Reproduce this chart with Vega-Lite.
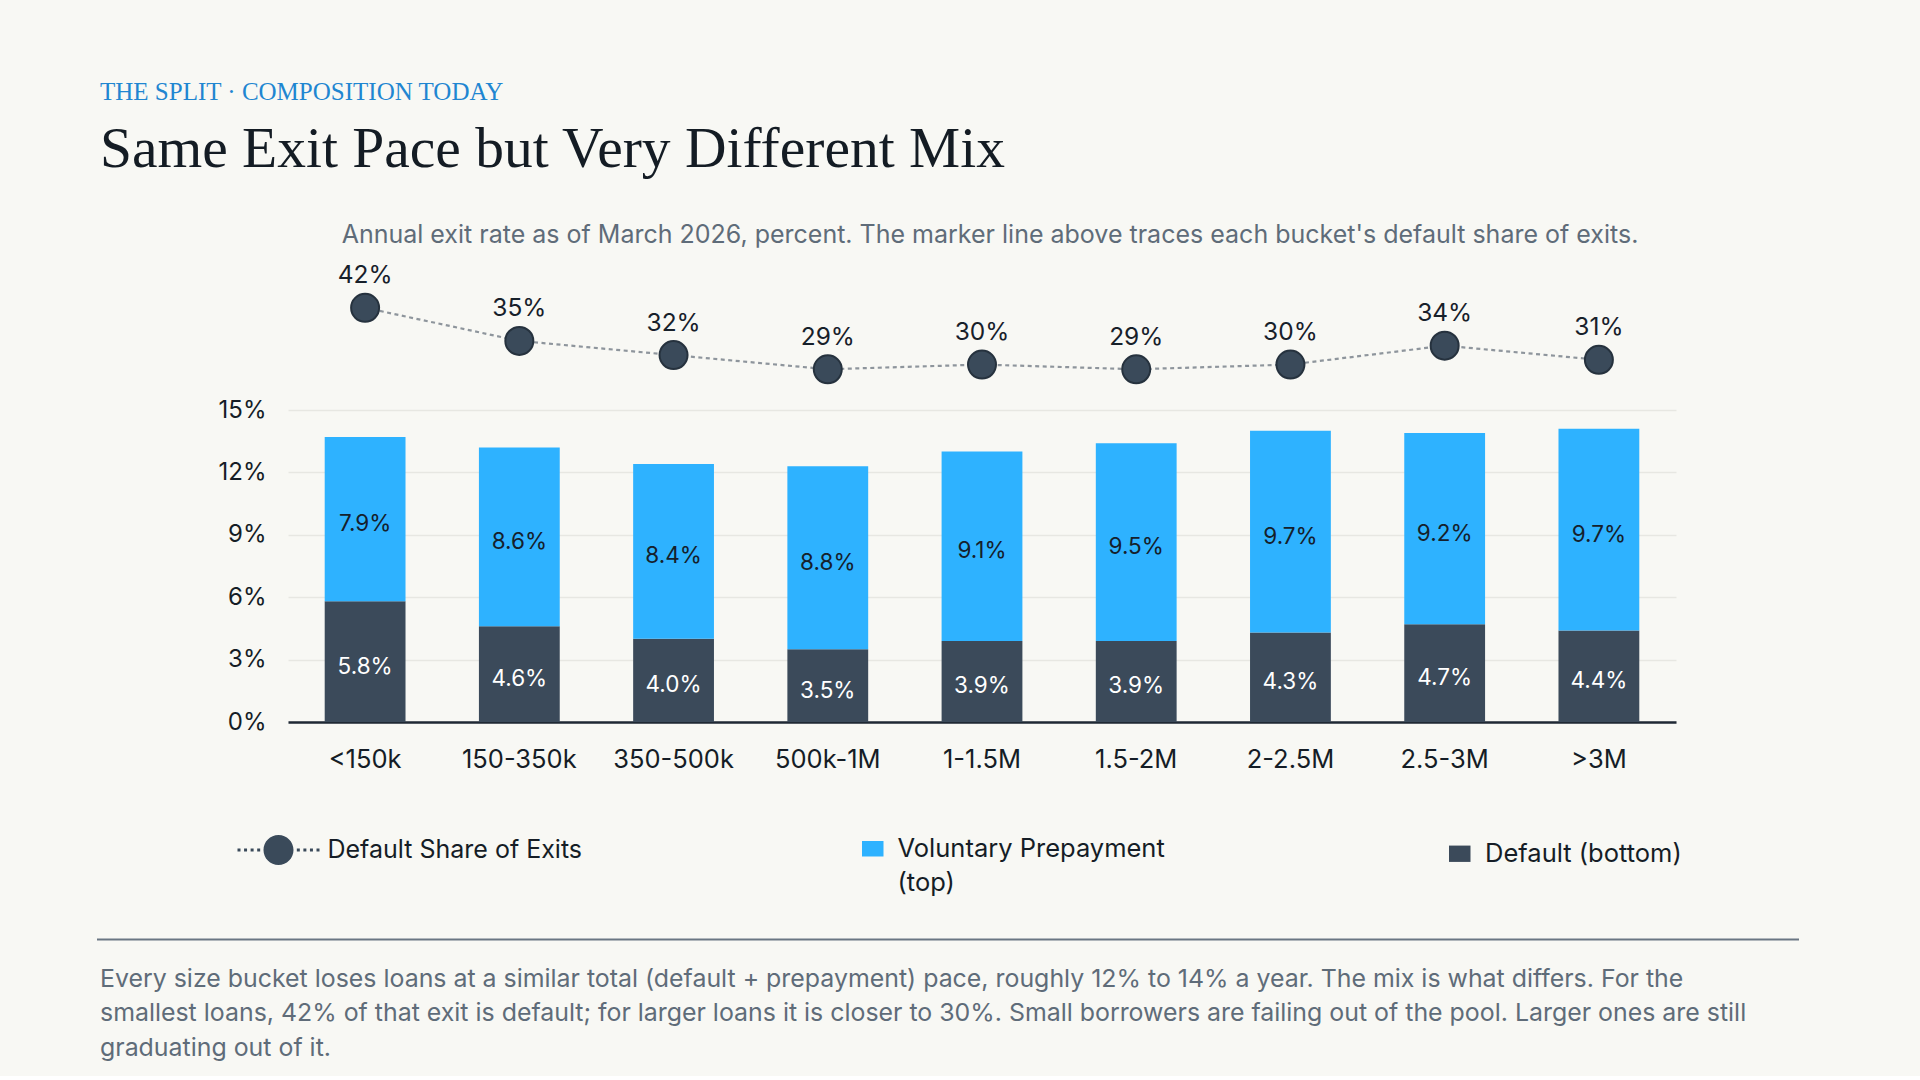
{
  "$schema": "https://vega.github.io/schema/vega-lite/v6.json",
  "background": "#f8f8f4",
  "autosize": {"type": "pad"},
  "padding": {"left": 96, "right": 122, "top": 79, "bottom": 15},
  "title": {
    "text": "THE SPLIT · COMPOSITION TODAY",
    "subtitle": "Same Exit Pace but Very Different Mix",
    "anchor": "start",
    "frame": "group",
    "dx": -188,
    "font": "Liberation Serif",
    "fontSize": 25,
    "fontWeight": "normal",
    "color": "#1f86d1",
    "subtitleFont": "Liberation Serif",
    "subtitleFontSize": 57.5,
    "subtitleColor": "#141c24",
    "subtitlePadding": 17,
    "offset": 45
  },
  "datasets": {
    "exits": [
      {"bucket": "<150k", "part": "Default (bottom)", "value": 0.058},
      {"bucket": "<150k", "part": "Voluntary Prepayment (top)", "value": 0.079},
      {"bucket": "150-350k", "part": "Default (bottom)", "value": 0.046},
      {"bucket": "150-350k", "part": "Voluntary Prepayment (top)", "value": 0.086},
      {"bucket": "350-500k", "part": "Default (bottom)", "value": 0.040},
      {"bucket": "350-500k", "part": "Voluntary Prepayment (top)", "value": 0.084},
      {"bucket": "500k-1M", "part": "Default (bottom)", "value": 0.035},
      {"bucket": "500k-1M", "part": "Voluntary Prepayment (top)", "value": 0.088},
      {"bucket": "1-1.5M", "part": "Default (bottom)", "value": 0.039},
      {"bucket": "1-1.5M", "part": "Voluntary Prepayment (top)", "value": 0.091},
      {"bucket": "1.5-2M", "part": "Default (bottom)", "value": 0.039},
      {"bucket": "1.5-2M", "part": "Voluntary Prepayment (top)", "value": 0.095},
      {"bucket": "2-2.5M", "part": "Default (bottom)", "value": 0.043},
      {"bucket": "2-2.5M", "part": "Voluntary Prepayment (top)", "value": 0.097},
      {"bucket": "2.5-3M", "part": "Default (bottom)", "value": 0.047},
      {"bucket": "2.5-3M", "part": "Voluntary Prepayment (top)", "value": 0.092},
      {"bucket": ">3M", "part": "Default (bottom)", "value": 0.044},
      {"bucket": ">3M", "part": "Voluntary Prepayment (top)", "value": 0.097}
    ],
    "share": [
      {"bucket": "<150k", "share": 0.42},
      {"bucket": "150-350k", "share": 0.35},
      {"bucket": "350-500k", "share": 0.32},
      {"bucket": "500k-1M", "share": 0.29},
      {"bucket": "1-1.5M", "share": 0.30},
      {"bucket": "1.5-2M", "share": 0.29},
      {"bucket": "2-2.5M", "share": 0.30},
      {"bucket": "2.5-3M", "share": 0.34},
      {"bucket": ">3M", "share": 0.31}
    ]
  },
  "spacing": 20,
  "vconcat": [
    {
      "width": 1388,
      "height": 312,
      "title": {
        "text": "Annual exit rate as of March 2026, percent. The marker line above traces each bucket's default share of exits.",
        "anchor": "middle",
        "frame": "group",
        "dx": 8,
        "font": "Inter",
        "fontSize": 25,
        "fontWeight": "normal",
        "color": "#5f6c79",
        "offset": 15
      },
      "layer": [
        {
          "data": {"name": "exits"},
          "transform": [
            {"stack": "value", "groupby": ["bucket"], "sort": [{"field": "part", "order": "ascending"}], "as": ["v0", "v1"]}
          ],
          "encoding": {
            "x": {
              "field": "bucket",
              "type": "nominal",
              "sort": ["<150k", "150-350k", "350-500k", "500k-1M", "1-1.5M", "1.5-2M", "2-2.5M", "2.5-3M", ">3M"],
              "scale": {"paddingInner": 0.476, "paddingOuter": 0.238},
              "axis": {
                "title": null,
                "labelAngle": 0,
                "labelFontSize": 25.5,
                "labelPadding": 25,
                "ticks": false,
                "domain": true,
                "domainColor": "#1f2934",
                "domainWidth": 2.5,
                "grid": false
              }
            }
          },
          "layer": [
            {
              "transform": [{"filter": "datum.part == 'Default (bottom)'"}],
              "mark": {"type": "bar"},
              "encoding": {
                "y": {
                  "field": "v1",
                  "type": "quantitative",
                  "scale": {"domain": [0, 0.15], "nice": false},
                  "axis": {
                    "title": null,
                    "values": [0, 0.03, 0.06, 0.09, 0.12, 0.15],
                    "format": ".0%",
                    "grid": true,
                    "gridColor": "#e7e7e2",
                    "gridWidth": 1.5,
                    "domain": false,
                    "ticks": false,
                    "labelFontSize": 24,
                    "labelPadding": 22,
                    "minExtent": 191,
                    "maxExtent": 191
                  }
                },
                "y2": {"field": "v0"},
                "fill": {
                  "field": "part",
                  "type": "nominal",
                  "scale": {"range": ["#3b4a5a"]},
                  "legend": {
                    "orient": "none",
                    "legendX": 1159,
                    "legendY": 431,
                    "symbolType": "M-1,-0.76H1V0.76H-1Z",
                    "symbolSize": 462,
                    "labelOffset": 12.5
                  }
                }
              }
            },
            {
              "transform": [{"filter": "datum.part == 'Voluntary Prepayment (top)'"}],
              "mark": {"type": "bar"},
              "encoding": {
                "y": {"field": "v1", "type": "quantitative"},
                "y2": {"field": "v0"},
                "fill": {
                  "field": "part",
                  "type": "nominal",
                  "scale": {"range": ["#2eb2ff"]},
                  "legend": {
                    "orient": "none",
                    "legendX": 572,
                    "legendY": 426,
                    "symbolType": "M-1,-0.72H1V0.72H-1Z",
                    "symbolSize": 462,
                    "labelOffset": 12,
                    "labelLimit": 500,
                    "labelExpr": "['Voluntary Prepayment', '(top)']"
                  }
                }
              }
            },
            {
              "transform": [
                {"filter": "datum.part == 'Default (bottom)'"},
                {"fold": ["v0", "v1"], "as": ["edge", "pos"]}
              ],
              "mark": {"type": "text", "font": "Inter", "fontSize": 22.5, "baseline": "middle", "dy": 5, "color": "#ffffff"},
              "encoding": {
                "y": {"field": "pos", "aggregate": "mean", "type": "quantitative"},
                "text": {"field": "value", "type": "quantitative", "format": ".1%"}
              }
            },
            {
              "transform": [
                {"filter": "datum.part == 'Voluntary Prepayment (top)'"},
                {"fold": ["v0", "v1"], "as": ["edge", "pos"]}
              ],
              "mark": {"type": "text", "font": "Inter", "fontSize": 22.5, "baseline": "middle", "dy": 5, "color": "#15202b"},
              "encoding": {
                "y": {"field": "pos", "aggregate": "mean", "type": "quantitative"},
                "text": {"field": "value", "type": "quantitative", "format": ".1%"}
              }
            }
          ],
          "resolve": {"scale": {"fill": "independent"}, "legend": {"fill": "independent"}}
        },
        {
          "data": {"name": "share"},
          "encoding": {
            "x": {
              "field": "bucket",
              "type": "nominal",
              "sort": ["<150k", "150-350k", "350-500k", "500k-1M", "1-1.5M", "1.5-2M", "2-2.5M", "2.5-3M", ">3M"],
              "axis": {
                "title": null,
                "labelAngle": 0,
                "labelFontSize": 25.5,
                "labelPadding": 25,
                "ticks": false,
                "domain": true,
                "domainColor": "#1f2934",
                "domainWidth": 2.5,
                "grid": false
              }
            },
            "y": {"field": "share", "type": "quantitative", "scale": {"domain": [0.25, 0.45], "range": [-21.8, -116.4], "nice": false, "zero": false}, "axis": null}
          },
          "layer": [
            {
              "mark": {"type": "line", "strokeWidth": 2.2, "strokeDash": [4, 3.5]},
              "encoding": {
                "stroke": {
                  "datum": "Default Share of Exits",
                  "type": "nominal",
                  "scale": {"range": ["#8e959c"]},
                  "legend": {
                    "orient": "none",
                    "legendX": -50.5,
                    "legendY": 399,
                    "labelFontSize": 25,
                    "symbolType": "M-1,-0.037H-0.927V0.037H-1Z M-0.84,-0.037H-0.767V0.037H-0.84Z M-0.68,-0.037H-0.607V0.037H-0.68Z M-0.52,-0.037H-0.447V0.037H-0.52Z M0.447,-0.037H0.52V0.037H0.447Z M0.607,-0.037H0.68V0.037H0.607Z M0.767,-0.037H0.84V0.037H0.767Z M0.927,-0.037H1V0.037H0.927Z M-0.366,0 A0.366,0.366 0 1,0 0.366,0 A0.366,0.366 0 1,0 -0.366,0 Z",
                    "symbolSize": 6724,
                    "symbolFillColor": "#3a4a5a",
                    "symbolStrokeWidth": 0,
                    "labelOffset": 8
                  }
                }
              }
            },
            {
              "mark": {"type": "point", "filled": true, "size": 784, "fill": "#3a4a5a", "stroke": "#26323e", "strokeWidth": 2, "opacity": 1}
            },
            {
              "mark": {"type": "text", "font": "Inter", "fontSize": 24.5, "baseline": "alphabetic", "dy": -24.5, "color": "#17202a"},
              "encoding": {
                "text": {"field": "share", "type": "quantitative", "format": ".0%"}
              }
            }
          ]
        }
      ],
      "resolve": {"scale": {"y": "independent"}}
    },
    {
      "width": 1388,
      "height": 22.5,
      "data": {"values": [{"edge": 0}]},
      "mark": {"type": "rule", "color": "#6a7683", "strokeWidth": 2},
      "encoding": {
        "x": {"datum": 0, "type": "quantitative", "scale": {"domain": [0, 1], "range": [-191, 1511]}, "axis": null},
        "x2": {"datum": 1},
        "y": {"field": "edge", "type": "quantitative", "scale": {"domain": [0, 1]}, "axis": null}
      },
      "title": {
        "text": [
          "Every size bucket loses loans at a similar total (default + prepayment) pace, roughly 12% to 14% a year. The mix is what differs. For the",
          "smallest loans, 42% of that exit is default; for larger loans it is closer to 30%. Small borrowers are failing out of the pool. Larger ones are still",
          "graduating out of it."
        ],
        "orient": "bottom",
        "anchor": "start",
        "frame": "group",
        "dx": -188,
        "font": "Inter",
        "fontSize": 24.9,
        "fontWeight": "normal",
        "color": "#5f6c79",
        "lineHeight": 34.5,
        "offset": 26
      }
    }
  ],
  "config": {
    "view": {"stroke": null},
    "font": "Inter",
    "axis": {"labelFont": "Inter", "labelColor": "#151d26"},
    "legend": {
      "title": null,
      "padding": 0,
      "labelFont": "Inter",
      "labelFontSize": 25.5,
      "labelColor": "#151d26",
      "labelLimit": 500
    },
    "style": {"guide-label": {"lineHeight": 34}}
  }
}
